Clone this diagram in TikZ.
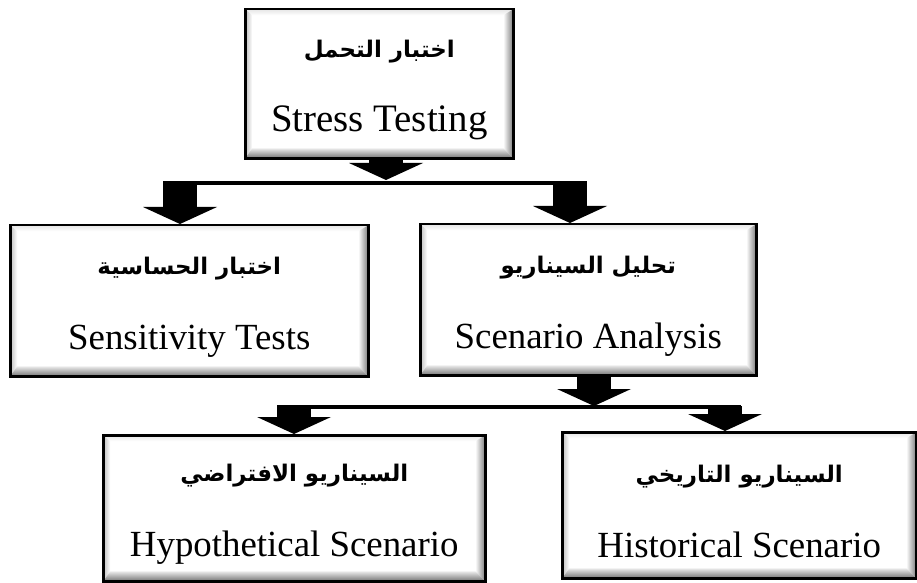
\documentclass[tikz,border=0pt]{standalone}
\usepackage{fontspec}
\setmainfont{Liberation Serif}
\newfontfamily\arabicfont[Script=Arabic]{DejaVu Sans}
\TeXXeTstate=1
\usetikzlibrary{arrows.meta}

% two-line label: Arabic title above, English title below
\newcommand\twolines[2]{{\arabicfont\bfseries\fontsize{23}{26}\selectfont\rule{0pt}{30bp}\beginR #1\endR}\\[35bp]#2}

\tikzset{
  bevelbox/.style={
    draw=black, line width=2.5bp, fill=white, rectangle, inner sep=0pt,
    anchor=north west, align=center, font=\fontsize{37}{40}\selectfont,
    path picture={
      \path (path picture bounding box.north west) coordinate (o1)
            (path picture bounding box.north east) coordinate (o2)
            (path picture bounding box.south east) coordinate (o3)
            (path picture bounding box.south west) coordinate (o4);
      \path ([shift={(7bp,-6bp)}]o1) coordinate (i1)
            ([shift={(-10bp,-6bp)}]o2) coordinate (i2)
            ([shift={(-10bp,10bp)}]o3) coordinate (i3)
            ([shift={(7bp,10bp)}]o4) coordinate (i4);
      \shade[top color=black!10, bottom color=white] (o1)--(o2)--(i2)--(i1)--cycle;
      \shade[left color=black!25, right color=white] (o1)--(i1)--(i4)--(o4)--cycle;
      \shade[left color=white, right color=black!52] (o2)--(i2)--(i3)--(o3)--cycle;
      \shade[top color=black!8, bottom color=black!55] (o4)--(i4)--(i3)--(o3)--cycle;
    }},
  busline/.style={line width=3.5bp},
  blockarrow/.style={line width=34bp,
    -{Triangle[width=74bp,length=17bp,line width=0pt]}}
}

\begin{document}
\begin{tikzpicture}[x=1bp,y=-1bp]
\useasboundingbox (0,0) rectangle (917,583);

% boxes
\node[bevelbox, minimum width=268bp, minimum height=149bp,
      font=\fontsize{39}{40}\selectfont] (stress) at (244,8)
  {\twolines{اختبار التحمل}{Stress Testing}};
\node[bevelbox, minimum width=358bp, minimum height=151bp] (sens) at (9,224)
  {\twolines{اختبار الحساسية}{Sensitivity Tests}};
\node[bevelbox, minimum width=336bp, minimum height=151bp] (scen) at (419,223)
  {\twolines{تحليل السيناريو}{Scenario Analysis}};
\node[bevelbox, minimum width=382bp, minimum height=146bp] (hypo) at (102,434)
  {\twolines{السيناريو الافتراضي}{Hypothetical Scenario}};
\node[bevelbox, minimum width=354bp, minimum height=146bp] (hist) at (561,431)
  {\twolines{السيناريو التاريخي}{Historical Scenario}};

% distribution lines
\coordinate (a1)  at (386,180);
\coordinate (b1L) at (163,183);
\coordinate (b1R) at (587,183);
\coordinate (b1B) at (180,183);
\coordinate (b1C) at (570,183);
\coordinate (d2)  at (594,406);
\coordinate (b2L) at (277,407);
\coordinate (b2R) at (741,407);
\coordinate (b2E) at (294,405);
\coordinate (b2F) at (725,406);

\draw[busline] (b1L) -- (b1R);
\draw[busline] (b2L) -- (b2R);

% block arrows
\draw[blockarrow] (stress.south -| a1) -- (a1);
\draw[blockarrow] (b1B) -- (b1B |- sens.north);
\draw[blockarrow] (b1C) -- (b1C |- scen.north);
\draw[blockarrow] (scen.south -| d2) -- (d2);
\draw[blockarrow] (b2E) -- (b2E |- hypo.north);
\draw[blockarrow] (b2F) -- (b2F |- hist.north);
\end{tikzpicture}
\end{document}
